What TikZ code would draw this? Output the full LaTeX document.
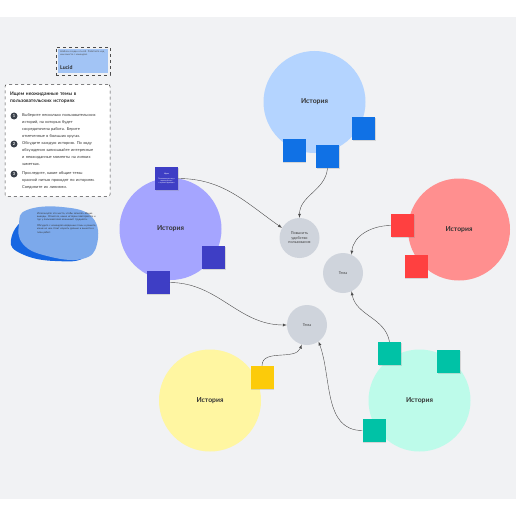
\documentclass[tikz,border=0pt]{standalone}
\usepackage{fontspec}
\setmainfont{Lato}
\usetikzlibrary{shadows}

\definecolor{canvas}{HTML}{F1F2F4}
\definecolor{bluestory}{HTML}{B4D4FF}
\definecolor{bluenote}{HTML}{1071E5}
\definecolor{violetstory}{HTML}{A5A5FF}
\definecolor{violetnote}{HTML}{3E3EC5}
\definecolor{redstory}{HTML}{FF8F8F}
\definecolor{rednote}{HTML}{FF4040}
\definecolor{tealstory}{HTML}{BDFBEA}
\definecolor{tealnote}{HTML}{00C2A6}
\definecolor{yellowstory}{HTML}{FFF6A1}
\definecolor{yellownote}{HTML}{FCCB0A}
\definecolor{themegray}{HTML}{CFD4DC}
\definecolor{blobfront}{HTML}{7CA9EB}
\definecolor{blobback}{HTML}{1767E2}
\definecolor{lucidblue}{HTML}{A2C4F5}
\definecolor{stepdark}{HTML}{3A414A}

\begin{document}
\begin{tikzpicture}[
    x=1pt,
    y=1pt,
    story/.style={
        circle,
        minimum size=102pt,
        inner sep=0pt,
        text=black!80,
        font=\fontsize{6.8}{7}\selectfont\bfseries
    },
    sticky/.style={
        rectangle,
        minimum size=23pt,
        inner sep=0pt,
        drop shadow={shadow xshift=0.5pt, shadow yshift=-0.7pt, opacity=0.25}
    },
    theme/.style={
        circle,
        fill=themegray,
        minimum size=40pt,
        inner sep=0pt,
        align=center,
        text=black!75,
        font=\fontsize{3.8}{4.5}\selectfont
    },
    stepnum/.style={
        circle,
        fill=stepdark,
        minimum size=7pt,
        inner sep=0pt,
        text=white,
        font=\fontsize{4}{4}\selectfont\bfseries
    },
    steptext/.style={
        anchor=north west,
        text width=74pt,
        inner sep=0pt,
        align=left,
        text=black!80,
        font=\fontsize{4}{7.3}\selectfont
    },
    link/.style={
        draw=black!70,
        line width=0.4pt,
        -latex
    }
]

    % Canvas
    \useasboundingbox (0,0) rectangle (516,-516);
    \fill[white] (0,0) rectangle (516,-516);
    \fill[canvas] (0,-17) rectangle (516,-499);

    % Lucid badge
    \node [draw=black!70, dashed, line width=0.5pt, inner sep=0pt, minimum width=54pt, minimum height=28pt] (badge) at (83,-61) {};
    \fill[lucidblue] (58,-49) rectangle (108,-73);
    \node [anchor=north west, inner sep=0pt, text width=46pt, font=\fontsize{2.4}{3}\selectfont, text=black!70] (badgetext) at (60,-51) {Шаблон создан в Lucid. Работайте над ним вместе с командой.};
    \node [anchor=west, inner sep=0pt, font=\fontsize{5.2}{5}\selectfont\bfseries, text=black!85] (badgelogo) at (60,-68) {Lucid};

    % Instructions panel
    \node [draw=black!75, dashed, line width=0.5pt, fill=white, rounded corners=2pt, minimum width=105pt, minimum height=112pt, inner sep=0pt] (guide) at (57.5,-140.5) {};
    \node [anchor=north west, inner sep=0pt, text width=96pt, align=left, font=\fontsize{4.9}{7}\selectfont\bfseries, text=black!85] (guidetitle) at (10,-91.5) {Ищем неожиданные темы в пользовательских историях};
    \node [stepnum] (num1) at (14,-116) {1};
    \node [steptext] (step1) at (22,-113) {Выберите несколько пользовательских историй, на которых будет сосредоточена работа. Берите отмеченные в больших кругах.};
    \node [stepnum] (num2) at (14,-144) {2};
    \node [steptext] (step2) at (22,-141) {Обсудите каждую историю. По ходу обсуждения записывайте интересные и неожиданные моменты на липких заметках.};
    \node [stepnum] (num3) at (14,-174) {3};
    \node [steptext] (step3) at (22,-171) {Проследите, какие общие темы красной нитью проходят по историям. Соедините их линиями.};

    % Blob with notes
    \fill[blobback] plot[smooth cycle, tension=0.75] coordinates {(27,-218) (62,-213) (88,-228) (86,-256) (55,-261) (22,-254) (11,-240)};
    \fill[blobfront] plot[smooth cycle, tension=0.75] coordinates {(27,-210) (62,-207) (92,-217) (97,-244) (82,-259) (47,-256) (23,-244) (19,-224)};
    \node [anchor=north west, inner sep=0pt, text width=62pt, align=left, font=\fontsize{2.5}{3.3}\selectfont, text=black!80] (blobtext) at (37,-212) {Используйте это место, чтобы записать общие выводы. Отметьте, какие истории повторяются и где у пользователей возникают трудности.\par\vspace{2.5pt}Обсудите с командой найденные темы и решите, какие из них стоит изучить дальше и вынести в план работ.};

    % Stories
    \node [story, fill=bluestory] (bluestory) at (314.5,-102) {История};
    \node [story, fill=violetstory] (violetstory) at (170.5,-229) {История};
    \node [story, fill=redstory] (redstory) at (459,-229.5) {История};
    \node [story, fill=tealstory] (tealstory) at (419.5,-400.5) {История};
    \node [story, fill=yellowstory] (yellowstory) at (210,-400.5) {История};

    % Sticky notes
    \node [sticky, fill=bluenote] (blue1) at (294,-150.5) {};
    \node [sticky, fill=bluenote] (blue2) at (327.5,-156.5) {};
    \node [sticky, fill=bluenote] (blue3) at (363.5,-128.5) {};
    \node [sticky, fill=violetnote, align=center, text=white, font=\fontsize{1.8}{2.2}\selectfont] (violet1) at (166.5,-178.5) {\textbf{Идея}\\[3pt]Пользователи ищут\\короткий путь\\к нужной функции};
    \node [sticky, fill=violetnote] (violet2) at (213.5,-257.5) {};
    \node [sticky, fill=violetnote] (violet3) at (158,-282.5) {};
    \node [sticky, fill=rednote] (red1) at (402.5,-225.5) {};
    \node [sticky, fill=rednote] (red2) at (416,-266.5) {};
    \node [sticky, fill=tealnote] (teal1) at (389.5,-353.5) {};
    \node [sticky, fill=tealnote] (teal2) at (448.5,-361.5) {};
    \node [sticky, fill=tealnote] (teal3) at (374,-430.5) {};
    \node [sticky, fill=yellownote] (yellow1) at (262,-377.5) {};

    % Themes
    \node [theme] (usability) at (299.5,-238) {Повысить\\удобство\\пользования};
    \node [theme] (themeright) at (343,-273) {Тема};
    \node [theme] (themelow) at (307,-325) {Тема};

    % Links
    \path [link] (violet1.east) to[out=0, in=145] (usability.150);
    \path [link] (blue2.south) to[out=-95, in=90] (usability.north);
    \path [link] (red1.west) to[out=180, in=85] (themeright.65);
    \path [link] (teal1.north) to[out=100, in=-80] (themeright.-65);
    \path [link] (violet3.east) to[out=0, in=180] (themelow.west);
    \path [link] (yellow1.north) to[out=90, in=-110] (themelow.-105);
    \path [link] (teal3.west) to[out=180, in=-70] (themelow.-55);

\end{tikzpicture}
\end{document}
